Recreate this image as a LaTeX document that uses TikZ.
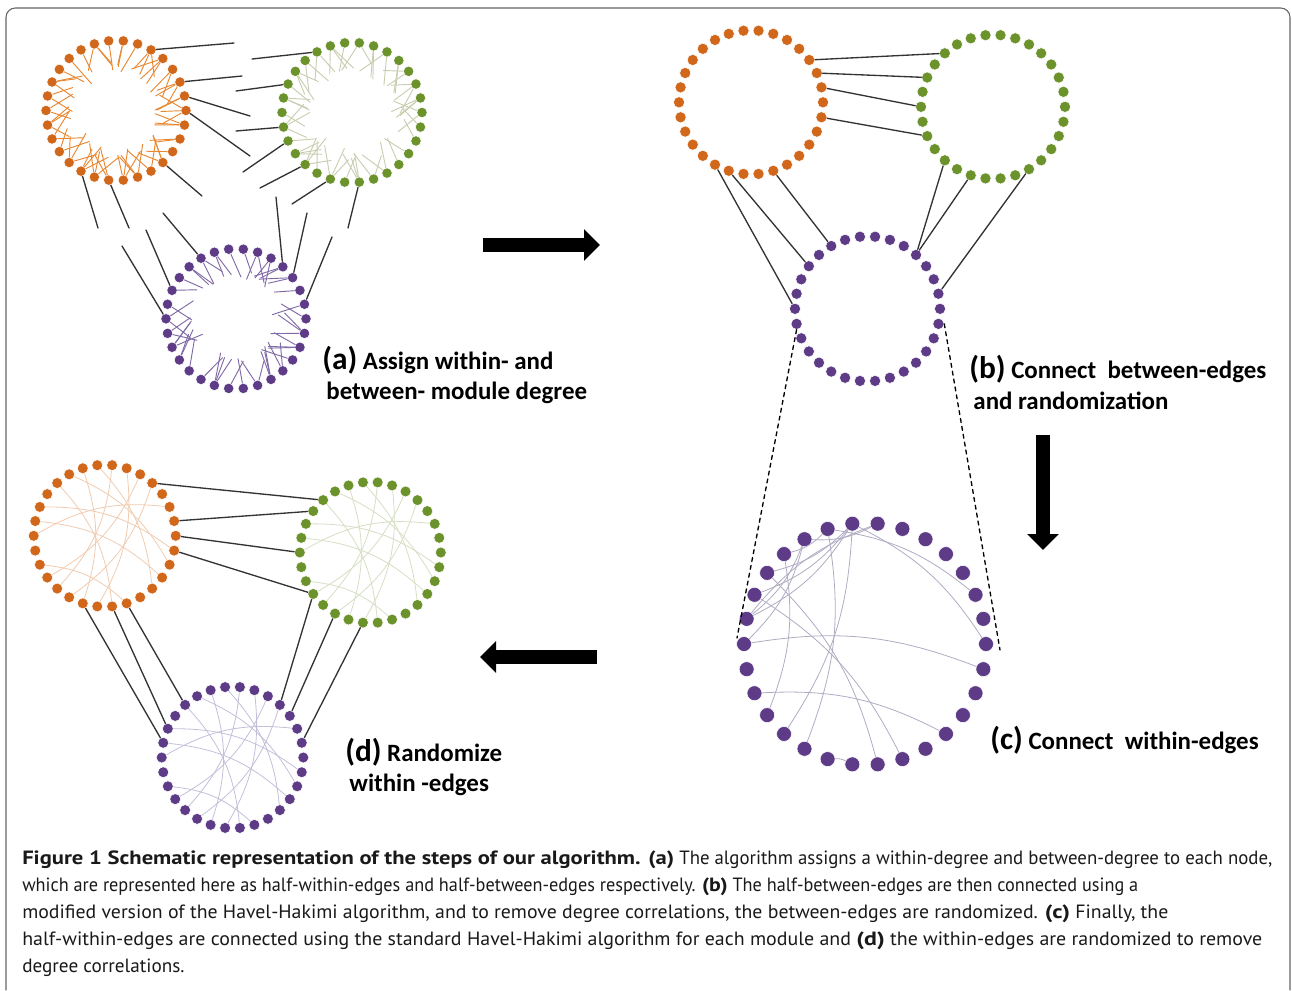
\documentclass[tikz,border=0pt]{standalone}
\usepackage{fontspec}
\usepackage{graphicx}
\setmainfont{PT Sans}
\newfontface\capbold{PT Sans Bold}[FakeStretch=1.2]
\newfontfamily\labelfont{Carlito}
\usetikzlibrary{arrows.meta}
\definecolor{modorange}{RGB}{209,103,27}
\definecolor{modgreen}{RGB}{108,146,44}
\definecolor{modpurple}{RGB}{93,59,135}
\definecolor{orangespoke}{RGB}{232,135,50}
\definecolor{greenspoke}{RGB}{200,206,176}
\definecolor{purplespoke}{RGB}{128,106,166}
\definecolor{orangelink}{RGB}{240,203,175}
\definecolor{greenlink}{RGB}{214,222,196}
\definecolor{purplelink}{RGB}{196,190,216}
\newcommand{\plabel}[1]{{\fontsize{23.5}{23}\selectfont #1}}
\newcommand{\cb}[1]{{\capbold #1}}
\newcommand{\capline}[2]{\resizebox{#1}{\height}{#2}}
\begin{document}
\begin{tikzpicture}[x=0.75pt, y=-0.75pt, line cap=round]
\tikzstyle{every node} = [inner sep=0pt]
\tikzstyle{dot} = [circle, draw=white, line width=0.4pt, minimum size=7.5pt]
\tikzstyle{between} = [draw=black!80, line width=1pt]
\tikzstyle{spoke} = [line width=0.7pt]
\tikzstyle{within} = [line width=0.6pt]
\tikzstyle{bigarrow} = [line width=11pt, line cap=butt, -{Triangle[length=12pt, width=23pt]}]
\tikzstyle{steplabel} = [anchor=west, align=left, font=\labelfont\fontsize{18.7}{23}\selectfont\bfseries]
\useasboundingbox (0,0) rectangle (1292,990);
\draw[gray!80!black, line width=0.8pt, rounded corners=7pt] (6,990) -- (6,8) -- (1290,8) -- (1290,990);

% modules: name/centre x/centre y/radius/colour/dot size
\foreach \m/\cx/\cy/\r/\col/\sz in {ao/116/110.5/70/modorange/7.8pt, ag/352/112.5/70/modgreen/7.8pt, ap/236/318.8/70/modpurple/7.8pt,
    bo/751/102.3/72/modorange/8.4pt, bg/993/106.8/72/modgreen/8.4pt, bp/867.5/308.8/72.5/modpurple/8.4pt,
    cp/865/644/121/modpurple/11.2pt,
    do/104.7/535.8/71/modorange/8.2pt, dg/370.3/552.5/70.5/modgreen/8.2pt, dp/232.5/757.5/70.8/modpurple/8.2pt}
  \foreach \k in {0,...,29}
    \node[dot, fill=\col, minimum size=\sz] (\m\k) at ({\cx+\r*cos(\k*12)},{\cy+\r*sin(\k*12)}) {};

% (a) half-within-edges
\pgfmathsetseed{7}
\foreach \m/\col in {ao/orangespoke, ag/greenspoke, ap/purplespoke}
  \foreach \k in {0,...,29} {
    \pgfmathtruncatemacro\nsp{1+3*rnd}
    \foreach \j in {1,...,\nsp} {
      \pgfmathsetmacro\ang{\k*12+180+80*(rnd-0.5)}
      \pgfmathsetmacro\len{24+10*rnd}
      \draw[spoke, \col] (\m\k) -- ++(\ang:\len);
    }
  }

% (a) half-between-edges
\foreach \n/\x/\y in {1/234/43, 2/252/59, 3/242/76, 4/236/91, 5/250/116, 6/236/131, 7/250/156, 8/243/172, 9/260/188, 10/202/196,
    11/292/204, 12/348/228, 13/98/228, 14/129/228, 15/146/230, 16/122/246, 17/163/213, 18/276/197, 19/307/213, 20/332/237}
  \coordinate (h\n) at (\x,\y);
\foreach \from/\to in {ao25/h1, ag20/h2, ao28/h3, ag17/h4, ao29/h5, ag14/h6, ao0/h7, ag13/h8, ag11/h9, ao4/h10,
    ag9/h11, ag7/h12, ao10/h13, ao8/h14, ap17/h15, ap15/h16, ap20/h17, ap26/h18, ap27/h19, ap29/h20}
  \draw[between] (\from) -- (\to);

% (b) and (d) between-edges
\foreach \from/\to in {bo27/bg19, bo28/bg17, bo29/bg15, bo1/bg13, bo10/bp15, bo9/bp18, bo6/bp20, bg11/bp26, bg9/bp26, bg5/bp29,
    do26/dg19, do29/dg18, do0/dg15, do1/dg12, do9/dp16, do7/dp17, do6/dp19, dg12/dp26, dg10/dp27, dg8/dp29}
  \draw[between] (\from) -- (\to);

% zoom on the purple module
\coordinate (cl) at (737,638);
\coordinate (cr) at (1000,650);
\draw[dashed, line width=1pt] (bp14.south) -- (cl);
\draw[dashed, line width=1pt] (bp1.east) -- (cr);

% (c) within-edges
\foreach \from/\to in {22/0, 22/16, 22/17, 22/11, 21/10, 21/19, 20/15, 17/6, 18/7, 15/1, 13/4, 9/8, 19/12, 16/23, 23/20, 21/28, 22/18, 20/16}
  \draw[within, purplelink!90!black] (cp\from) to[bend left=15] (cp\to);

% (d) within-edges
\foreach \m/\col in {do/orangelink, dg/greenlink, dp/purplelink}
  \foreach \from/\to in {26/10, 24/8, 22/4, 20/2, 17/1, 15/28, 13/6, 19/7, 23/11, 16/3, 21/9, 25/12}
    \draw[within, \col] (\m\from) to[bend left=18] (\m\to);

% steps
\coordinate (ra) at (483,245);
\coordinate (rb) at (600,245);
\coordinate (da) at (1043,435);
\coordinate (db) at (1043,550);
\coordinate (la) at (597,657);
\coordinate (lb) at (480,657);
\foreach \from/\to in {ra/rb, da/db, la/lb}
  \draw[bigarrow] (\from) -- (\to);

\node[steplabel] (ta) at (322,375) {\plabel{(a)} Assign within- and\\\,between- module degree};
\node[steplabel] (tb) at (969,382.5) {\plabel{(b)} Connect~ between-edges\\\,and randomization};
\node[steplabel] (tc) at (990,740) {\plabel{(c)} Connect~ within-edges};
\node[steplabel] (td) at (345,767) {\plabel{(d)} Randomize\\\,within -edges};

\node[anchor=west, align=left, text=black!90, font=\fontsize{14.4}{20.25}\selectfont] (caption) at (22,913.5)
  {\capline{937.5pt}{\cb{Figure 1 Schematic representation of the steps of our algorithm. (a)} The algorithm assigns a within-degree and between-degree to each node,}\\
   \capline{837pt}{which are represented here as half-within-edges and half-between-edges respectively. \cb{(b)} The half-between-edges are then connected using a}\\
   \capline{859.5pt}{modified version of the Havel-Hakimi algorithm, and to remove degree correlations, the between-edges are randomized. \cb{(c)} Finally, the}\\
   \capline{930pt}{half-within-edges are connected using the standard Havel-Hakimi algorithm for each module and \cb{(d)} the within-edges are randomized to remove}\\
   degree correlations.};
\end{tikzpicture}
\end{document}
